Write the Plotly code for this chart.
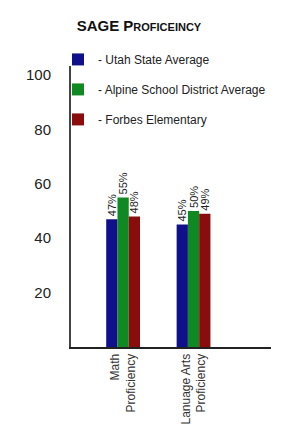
import plotly.graph_objects as go

categories = ["Math<br>Proficiency", "Lanuage Arts<br>Proficiency"]
series_names = ["- Utah State Average", "- Alpine School District Average", "- Forbes Elementary"]
utah = [47, 45]
alpine = [55, 50]
forbes = [48, 49]
y_ticks = [20, 40, 60, 80, 100]

colors = ["#10108a", "#0f8a22", "#8a0c0c"]
SANS = "Liberation Sans, Arial, sans-serif"

fig = go.Figure()
x_pos = list(range(len(categories)))
for i, (name, vals) in enumerate(zip(series_names, [utah, alpine, forbes])):
    fig.add_trace(go.Bar(
        x=x_pos, y=vals, name=name, legendgroup=str(i),
        marker=dict(color=colors[i], line=dict(width=0)),
        text=[f"{v}%" for v in vals], textposition="outside", textangle=-90,
        constraintext="none",
        textfont=dict(family=SANS, size=11, color="#222"),
        cliponaxis=False,
    ))

fig.update_layout(
    width=301, height=429,
    margin=dict(l=63, r=38, t=58, b=88),
    paper_bgcolor="white", plot_bgcolor="white",
    barmode="group", bargap=0.52, bargroupgap=0,
    title=dict(
        text="SAGE Proficeincy",
        font=dict(family=SANS, size=15, color="#111", weight="bold", variant="small-caps"),
        x=0.435, xanchor="center", y=0.958, yanchor="middle",
    ),
    showlegend=True,
    legend=dict(
        x=-0.065, y=1.075, xanchor="left", yanchor="top",
        font=dict(family=SANS, size=12, color="#222"),
        tracegroupgap=11, bgcolor="rgba(0,0,0,0)",
    ),
    xaxis=dict(
        range=[-0.74, 2.1], tickvals=x_pos, ticktext=categories, tickangle=-90,
        showgrid=False, zeroline=False, showline=True, linecolor="#222", linewidth=2,
        tickfont=dict(family=SANS, size=12, color="#333"), ticks="",
    ),
    yaxis=dict(
        range=[0, 103.3], tickvals=y_ticks,
        showgrid=False, zeroline=False,
        showline=True, linecolor="#444", linewidth=2, ticks="",
        ticklabelstandoff=15,
        tickfont=dict(family=SANS, size=15, color="#222"),
    ),
)

fig.write_html("out.html")
